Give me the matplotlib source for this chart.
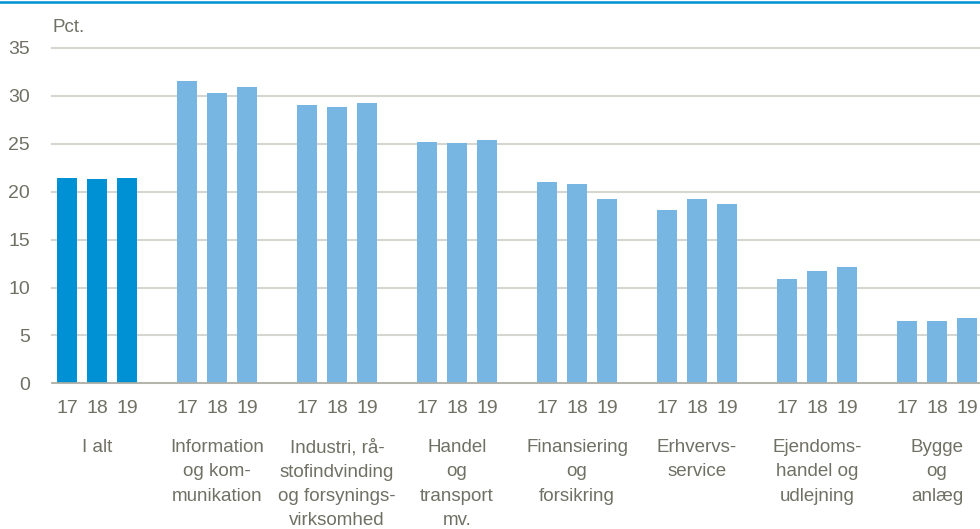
import numpy as np
import matplotlib
matplotlib.use("Agg")
import matplotlib.pyplot as plt
from matplotlib.lines import Line2D
import matplotlib.transforms as mtransforms

plt.rcParams['font.family'] = ['Liberation Sans', 'DejaVu Sans']

# Data
years = ["17", "18", "19"]
categories = [
    "I alt",
    "Information\nog kom-\nmunikation",
    "Industri, rå-\nstofindvinding\nog forsynings-\nvirksomhed",
    "Handel\nog\ntransport\nmv.",
    "Finansiering\nog\nforsikring",
    "Erhvervs-\nservice",
    "Ejendoms-\nhandel og\nudlejning",
    "Bygge\nog\nanlæg",
]
values = [
    [21.4, 21.3, 21.4],
    [31.6, 30.3, 30.9],
    [29.0, 28.8, 29.3],
    [25.2, 25.1, 25.4],
    [21.0, 20.8, 19.2],
    [18.1, 19.2, 18.7],
    [10.9, 11.7, 12.1],
    [6.5, 6.5, 6.8],
]

dark_blue = "#0091D5"
light_blue = "#77B5E3"
text_col = "#707065"

fig = plt.figure(figsize=(9.8, 5.29), dpi=100)
ax = fig.add_axes([52 / 980, 145.7 / 529, 928 / 980, 335.3 / 529])

xpos, heights, colors, ticklabels = [], [], [], []
for g, vals in enumerate(values):
    for i, v in enumerate(vals):
        xpos.append(4 * g + i)
        heights.append(v)
        colors.append(dark_blue if g == 0 else light_blue)
        ticklabels.append(years[i])

ax.bar(xpos, heights, width=0.68, color=colors, zorder=3)

ax.set_xlim(-0.5, 30.43)
ax.set_ylim(0, 35)
ax.set_yticks(np.arange(0, 36, 5))
ax.set_xticks(xpos)
ax.set_xticklabels(ticklabels)
ax.tick_params(axis='both', length=0, labelsize=14, labelcolor=text_col)
ax.tick_params(axis='x', pad=12)
ax.tick_params(axis='y', pad=16)

ax.yaxis.grid(True, color="#D6D6D0", linewidth=1.5, zorder=0)
for s in ["top", "right", "left"]:
    ax.spines[s].set_visible(False)
ax.spines["bottom"].set_color("#AEAEA6")
ax.spines["bottom"].set_linewidth(1.2)
ax.spines["bottom"].set_zorder(4)
for line in ax.get_ygridlines():
    line.set_clip_on(False)

trans = mtransforms.blended_transform_factory(ax.transData, fig.transFigure)
for g, name in enumerate(categories):
    ax.text(4 * g + 1, 1 - 439 / 529, name, transform=trans, ha='center', va='top',
            fontsize=13.5, color=text_col, linespacing=1.56)

fig.text(52 / 980, 1 - 27 / 529, "Pct.", ha='left', va='center', fontsize=13.5, color=text_col)

fig.add_artist(Line2D([0, 1], [1 - 2 / 529, 1 - 2 / 529], transform=fig.transFigure,
                      color=dark_blue, linewidth=1.8))

fig.savefig("out.png", dpi=100)
